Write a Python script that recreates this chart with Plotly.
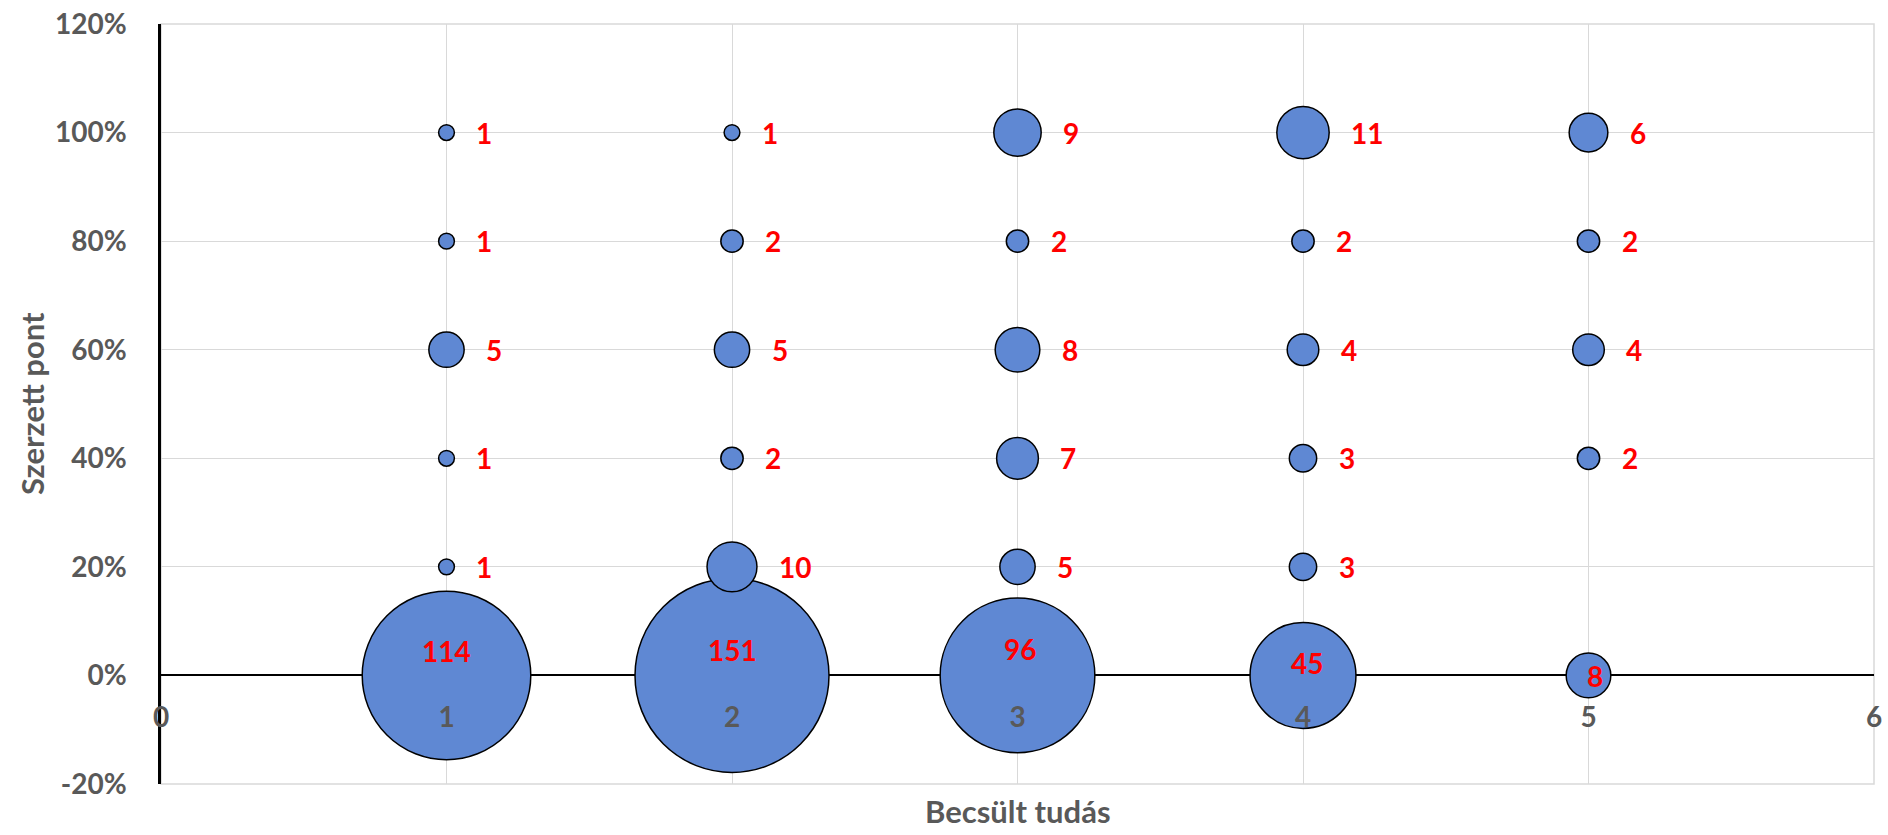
import plotly.graph_objects as go

# Data: (Becsült tudás, Szerzett pont, count)
est_x = [1, 1, 1, 1, 1, 1,
         2, 2, 2, 2, 2, 2,
         3, 3, 3, 3, 3, 3,
         4, 4, 4, 4, 4, 4,
         5, 5, 5, 5, 5]
score_y = [0, 0.2, 0.4, 0.6, 0.8, 1.0,
           0, 0.2, 0.4, 0.6, 0.8, 1.0,
           0, 0.2, 0.4, 0.6, 0.8, 1.0,
           0, 0.2, 0.4, 0.6, 0.8, 1.0,
           0, 0.4, 0.6, 0.8, 1.0]
counts = [114, 1, 1, 5, 1, 1,
          151, 10, 2, 5, 2, 1,
          96, 5, 7, 8, 2, 9,
          45, 3, 3, 4, 2, 11,
          8, 2, 4, 2, 6]

y_tickvals = [-0.2, 0, 0.2, 0.4, 0.6, 0.8, 1.0, 1.2]
y_ticktext = ["-20%", "0%", "20%", "40%", "60%", "80%", "100%", "120%"]
x_tickvals = [0, 1, 2, 3, 4, 5, 6]

# style
MAX_D = 194
FONT = "Lato"
GRAY = "#595959"
GRID = "#D9D9D9"
# label offsets for bottom row (pixels), style only
zero_dx = {1: 0, 2: 0, 3: 2, 4: 4, 5: 6}
zero_dy = {1: 24, 2: 25, 3: 26, 4: 12, 5: -1}

cmax = max(counts)
sizeref = 2.0 * cmax / (MAX_D ** 2)

fig = go.Figure()
fig.add_trace(go.Scatter(
    x=est_x, y=score_y, mode="markers",
    marker=dict(size=counts, sizemode="area", sizeref=sizeref,
                color="#5f88d3", line=dict(color="black", width=1.5), opacity=1),
    hoverinfo="skip", showlegend=False, cliponaxis=False,
))

annotations = []
for xv, yv, c in zip(est_x, score_y, counts):
    if yv == 0:
        annotations.append(dict(
            x=xv, y=yv, xref="x", yref="y", text=str(c), showarrow=False,
            xanchor="center", yanchor="middle",
            xshift=zero_dx[xv], yshift=zero_dy[xv],
            font=dict(family=FONT, size=28, color="#FF0000", weight="bold")))
    else:
        r = 0.5 * MAX_D * (c / cmax) ** 0.5
        annotations.append(dict(
            x=xv, y=yv, xref="x", yref="y", text=str(c), showarrow=False,
            xanchor="left", yanchor="middle", xshift=r + 20, yshift=0,
            font=dict(family=FONT, size=28, color="#FF0000", weight="bold")))

annotations.append(dict(
    x=0.5, y=0, xref="paper", yref="paper", text="Becsült tudás", showarrow=False,
    xanchor="center", yanchor="top", yshift=-6,
    font=dict(family=FONT, size=31, color=GRAY, weight="bold")))
annotations.append(dict(
    x=0, y=0.5, xref="paper", yref="paper", text="Szerzett pont", showarrow=False,
    xanchor="center", yanchor="middle", xshift=-129, textangle=-90,
    font=dict(family=FONT, size=31, color=GRAY, weight="bold")))

fig.update_layout(
    width=1888, height=835,
    margin=dict(l=161, r=6, t=21, b=51),
    paper_bgcolor="white", plot_bgcolor="white",
    annotations=annotations,
    shapes=[dict(type="rect", xref="paper", yref="paper", x0=0, x1=1, y0=0, y1=1,
                 line=dict(color=GRID, width=1.5), layer="below")],
    xaxis=dict(range=[0, 6], tickvals=x_tickvals, ticktext=[str(v) for v in x_tickvals],
               showgrid=True, gridcolor=GRID, gridwidth=1.3,
               zeroline=False, showline=False, ticks="",
               anchor="free", position=0.2 / 1.4, ticklabelstandoff=23,
               ticklabeloverflow="allow",
               tickfont=dict(family=FONT, size=28, color=GRAY, weight="bold")),
    yaxis=dict(range=[-0.2, 1.2], tickvals=y_tickvals, ticktext=y_ticktext,
               showgrid=True, gridcolor=GRID, gridwidth=1.3,
               zeroline=True, zerolinecolor="black", zerolinewidth=2,
               showline=True, linecolor="black", linewidth=2.5, ticks="",
               ticklabelstandoff=26,
               tickfont=dict(family=FONT, size=28, color=GRAY, weight="bold")),
)

fig.write_html("out.html", config={"displayModeBar": False},
               post_script="document.body.style.margin='0';document.body.style.overflow='hidden';")
